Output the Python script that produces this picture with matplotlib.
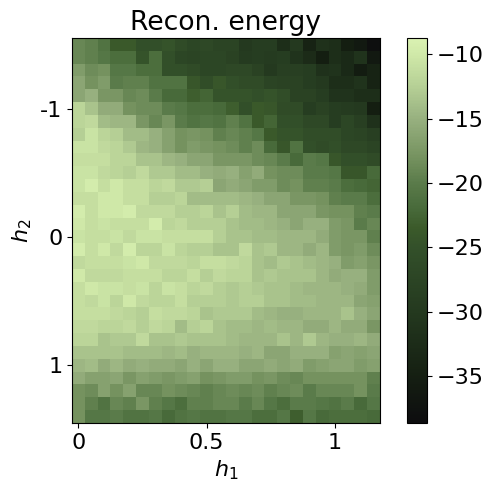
import matplotlib
matplotlib.use('Agg')
import matplotlib.pyplot as plt
from matplotlib.colors import LinearSegmentedColormap
import numpy as np

# reconstruction energy, rows top to bottom (h2), columns left to right (h1)
energy = [
    [-19, -19.5, -21, -23.5, -23.5, -25, -25, -24.5, -26, -27, -26.5, -27.5, -27.5, -30, -29, -29, -32, -30, -34, -31.5, -32, -35, -36, -38],
    [-19, -19.5, -20.5, -21.5, -21.5, -24.5, -21.5, -25, -27, -27.5, -27, -27, -28, -29.5, -29, -29.5, -29, -31, -32.5, -35, -32, -33, -31, -36],
    [-17, -18.5, -18, -20.5, -20.5, -21.5, -21.5, -25, -25, -26, -27, -27, -26.5, -26.5, -28, -30, -28.5, -28.5, -29, -31.5, -31, -33, -35.5, -34],
    [-16, -18, -17, -20, -19.5, -19.5, -21, -21, -21, -24, -25.5, -24, -25, -26, -26, -27.5, -28, -28, -29, -30, -32, -32, -31, -34],
    [-16, -15, -17.5, -17.5, -19, -18.5, -20, -22, -22, -23, -22.5, -24.5, -24.5, -24.5, -25, -24.5, -25.5, -28, -28, -29, -31, -31, -32, -32],
    [-12, -13.5, -15.5, -15.5, -18, -18.5, -18.5, -20, -20.5, -21.5, -21.5, -22, -23, -25, -23.5, -24, -26, -26, -29, -28, -29, -29.5, -30, -35],
    [-12, -11.5, -14, -14.5, -14.5, -17.5, -19, -17.5, -20, -21, -20.5, -21, -19.5, -21, -23.5, -22.5, -25, -25, -26.5, -26.5, -29, -27, -28.5, -31.5],
    [-12.5, -10.5, -12, -12.5, -14, -14, -15, -16.5, -18, -17.5, -18, -19.5, -19, -19.5, -20.5, -23.5, -24.5, -24.5, -25.5, -25.5, -25.5, -27, -27.5, -28.5],
    [-10.5, -10.5, -11.5, -12, -13, -14.5, -15, -16.5, -18, -17, -17.5, -18, -18.5, -19.5, -18.5, -22, -24, -21, -25, -26, -25, -26.5, -26.5, -27.5],
    [-11, -11, -11, -12, -12, -13.5, -13.5, -14.5, -15, -16, -16, -17.5, -17.5, -17.5, -18.5, -19, -20, -22, -20, -20.5, -24, -25, -25, -26],
    [-10.5, -10.5, -11.5, -12, -12.5, -11.5, -13, -13, -14, -14, -15, -15.5, -15, -16.5, -15.5, -18, -18.5, -18.5, -20, -20, -20.5, -24, -24, -22],
    [-10.5, -9.5, -11, -10, -11, -11, -12, -11.5, -13, -13, -12.5, -16, -15.5, -16, -17, -17, -18.5, -18, -19.5, -19.5, -20, -21.5, -22, -22.5],
    [-11, -11, -10, -10, -11, -11, -12.5, -12.5, -12, -14, -14, -14, -14, -14.5, -15, -16, -16, -17.5, -17.5, -18, -19.5, -20, -20, -21.5],
    [-9.5, -11, -10, -10, -9.5, -11.5, -11.5, -11.5, -12.5, -12.5, -12, -13.5, -12.5, -14, -14.5, -14.5, -16, -16, -16, -17.5, -18, -18, -19.5, -20],
    [-10, -11, -10.5, -11, -11, -11, -9.5, -12, -11.5, -12.5, -12.5, -12.5, -13.5, -14, -14, -14.5, -15, -16, -15, -15, -17, -17.5, -20, -19],
    [-10.5, -11, -11, -10.5, -11.5, -10.5, -10.5, -11, -11, -11, -11, -12.5, -13.5, -13.5, -14, -14, -14.5, -14.5, -14.5, -15.5, -17, -17.5, -17.5, -19.5],
    [-9.5, -11, -10, -11.5, -9.5, -12, -12, -10.5, -12, -12.5, -12.5, -13.5, -13.5, -11.5, -13.5, -13, -14.5, -14.5, -15.5, -14.5, -17, -17.5, -17, -18.5],
    [-11.5, -11, -11, -11, -10.5, -10, -11.5, -11.5, -11.5, -12, -11, -11, -11.5, -12, -13.5, -14, -13, -13.5, -14, -14.5, -15, -17, -16.5, -17.5],
    [-9.8, -11.5, -11.5, -11.5, -11, -11, -11, -12, -12, -11, -12.5, -11.5, -12, -12, -13.5, -13, -13.5, -13.5, -13.5, -14.5, -15.5, -15, -15, -17],
    [-11, -10, -10.5, -10.5, -11, -10.5, -12, -10.5, -11, -12, -11.5, -12.5, -13, -12.5, -13, -13.5, -13.5, -14, -14.5, -14.5, -14.5, -15, -15.5, -17],
    [-11, -11.5, -10.5, -12, -10, -11.5, -12, -12, -11, -12.5, -12.5, -12.5, -13, -12.5, -12.5, -13.5, -13.5, -14, -14, -14.5, -14.5, -14.5, -16, -16.5],
    [-11, -11, -11, -11.5, -12, -12.5, -11, -11.5, -11.5, -12, -13.5, -13, -13, -13, -14, -14.5, -15, -15, -14.5, -14.5, -14.5, -13.5, -15, -16],
    [-11.5, -11.5, -12, -12, -11.5, -12.5, -11.5, -12, -14, -12.5, -12, -13.5, -14, -14, -14.5, -14, -14.5, -14.5, -15.5, -15.5, -14.5, -15.5, -15.5, -17.5],
    [-12, -12, -13.5, -13, -13, -11.5, -13.5, -13.5, -13, -13.5, -13.5, -13.5, -14, -14.5, -14.5, -14.5, -13.5, -14.5, -13, -14.5, -15, -15, -14.5, -15.5],
    [-13.5, -13.5, -13.5, -13.5, -14, -14, -14, -14.5, -14, -15, -14.5, -14.5, -14.5, -15, -14.5, -16, -16, -15, -15, -15, -16.5, -16, -16.5, -16],
    [-14.5, -14, -15.5, -14.5, -15.5, -15, -15.5, -15.5, -16, -15, -16, -15, -15, -16, -16, -15.5, -16, -15.5, -17, -16.5, -16, -16, -17, -16.5],
    [-15.5, -16.5, -16.5, -16, -17.5, -16.5, -17, -17.5, -17, -16.5, -18, -17.5, -17, -17, -18, -17.5, -18.5, -19, -18, -18, -18, -18, -18, -19.5],
    [-18, -18.5, -16.5, -18, -16.5, -19, -19, -18, -18.5, -19, -19.5, -19, -18.5, -19, -18.5, -19.5, -19, -18.5, -20, -19, -19, -19, -18, -20],
    [-18, -19.5, -21, -19, -19.5, -17.5, -19.5, -20.5, -21.5, -19.5, -19.5, -19, -19, -20, -19, -20.5, -21.5, -20, -20, -20.5, -21, -20, -22, -20.5],
    [-18, -20.5, -20.5, -20, -21, -21, -20.5, -22, -21, -20.5, -21, -21, -20.5, -20.5, -21.5, -21.5, -20.5, -23, -20.5, -22, -21.5, -21.5, -21.5, -22],
]
h1_ticks = [0, 10, 20]
h1_labels = ['0', '0.5', '1']
h2_ticks = [5, 15, 25]
h2_labels = ['-1', '0', '1']

vmin = -38.65
vmax = -8.73
# colours
cmap_levels = [-38.65, -35, -30, -25, -23.5, -22, -20, -18, -15, -12.5, -10, -8.73]
cmap_colors = ['#0d0d0f', '#151f12', '#24391f', '#33502a', '#3b5a2a', '#486a3a', '#5a7b4a',
               '#75925f', '#97b07f', '#b5cf95', '#cfe8a8', '#daf2b2']
stops = [(v - vmin) / (vmax - vmin) for v in cmap_levels]
cmap = LinearSegmentedColormap.from_list('recon', list(zip(stops, cmap_colors)))

fig = plt.figure(figsize=(4.92, 4.92), dpi=100)
ax = fig.add_axes([72 / 492, 1 - 423 / 492, 308 / 492, 385 / 492])
cax = fig.add_axes([406.5 / 492, 1 - 423 / 492, 20 / 492, 385 / 492])

im = ax.imshow(np.array(energy), cmap=cmap, vmin=vmin, vmax=vmax, aspect='auto')
ax.set_xticks(h1_ticks)
ax.set_xticklabels(h1_labels)
ax.set_yticks(h2_ticks)
ax.set_yticklabels(h2_labels)
ax.tick_params(labelsize=16)
ax.set_xlabel('$h_1$', fontsize=16)
ax.set_ylabel('$h_2$', fontsize=16)
ax.set_title('Recon. energy', fontsize=19.2)

cb = fig.colorbar(im, cax=cax)
cb.ax.tick_params(labelsize=16)

plt.savefig('out.png', dpi=100)
